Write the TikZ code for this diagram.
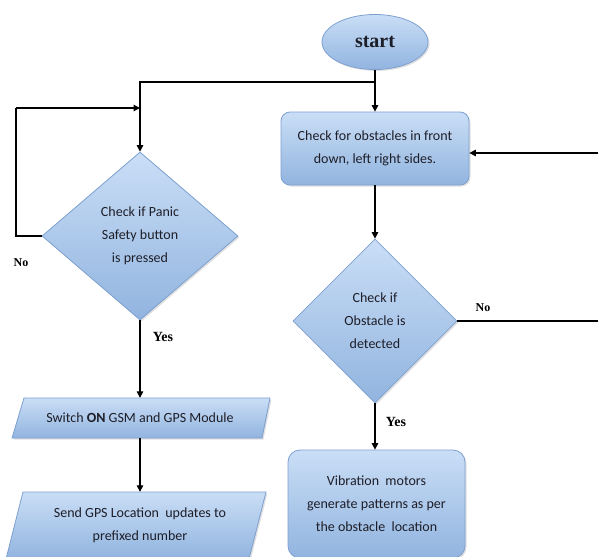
\documentclass[tikz,border=0pt]{standalone}
\usepackage{fontspec}
\setmainfont{Carlito}
\newfontfamily\lblfont{Liberation Serif}
\usetikzlibrary{shapes.geometric,arrows.meta,shadows}
\definecolor{boxtop}{RGB}{202,222,246}
\definecolor{boxbot}{RGB}{145,180,223}
\definecolor{boxline}{RGB}{125,160,208}
\definecolor{txt}{RGB}{30,30,40}
\tikzset{
  flowbox/.style={top color=boxtop, bottom color=boxbot, draw=boxline, line width=0.8pt,
    drop shadow={opacity=0.25, shadow xshift=1.5pt, shadow yshift=-1.5pt},
    text=txt, align=center, inner sep=0pt},
  bodyfont/.style={font=\fontsize{14}{23}\selectfont, text=txt, align=center, inner sep=0pt},
  lbl/.style={font=\lblfont\bfseries\fontsize{14}{16}\selectfont, text=black},
  conn/.style={line width=1.3pt, black},
  arr/.style={conn, -{Triangle[length=6.5pt,width=6.5pt]}},
}
\begin{document}
\begin{tikzpicture}[x=1pt,y=-1pt]
\useasboundingbox (0,0) rectangle (598,557);
% parallelogram outlines
\path[flowbox] (12,438) -- (24,398) -- (270,398) -- (262,438) -- cycle;
\path[flowbox] (6,559) -- (23,492) -- (266,492) -- (249,559) -- cycle;
% nodes
\node[flowbox, ellipse, minimum width=106, minimum height=55,
  font=\lblfont\bfseries\fontsize{20}{22}\selectfont] (start) at (375,42) {start};
\node[flowbox, rectangle, rounded corners=9pt, minimum width=188, minimum height=73, bodyfont]
  (r1) at (375,148.5) {Check for obstacles in front\\down, left right sides.};
\node[flowbox, diamond, minimum width=196, minimum height=168, bodyfont]
  (d1) at (140,236) {Check if Panic\\Safety button\\is pressed};
\node[flowbox, diamond, minimum width=164, minimum height=164, bodyfont]
  (d2) at (375,321) {Check if\\Obstacle is\\detected};
\node[bodyfont, minimum height=40, minimum width=2] (p1) at (140,418)
  {Switch \textbf{ON} GSM and GPS Module};
\node[bodyfont, minimum height=67, minimum width=2] (p2) at (140,525.5)
  {Send GPS Location\ \ updates to\\prefixed number};
\node[flowbox, rectangle, rounded corners=12pt, minimum width=177, minimum height=108, bodyfont]
  (r2) at (376.5,504) {Vibration\ \ motors\\generate patterns as per\\the obstacle\ \ location};
% labels
\node[lbl, font=\lblfont\bfseries\fontsize{12}{14}\selectfont] (no1) at (21,263) {No};
\node[lbl, font=\lblfont\bfseries\fontsize{12}{14}\selectfont] (no2) at (483,308) {No};
\node[lbl] (yes1) at (163,337) {Yes};
\node[lbl] (yes2) at (396,422) {Yes};
% coordinates
\coordinate (j) at (375,82);
\coordinate (jl) at (140,82);
\coordinate (loopl) at (16,236);
\coordinate (loopt) at (16,108);
\coordinate (loopr) at (140,108);
\coordinate (rin) at (598,153);
\coordinate (rout) at (598,321);
% connectors
\draw[conn] (start.south) -- (j);
\draw[arr] (j) -- (r1.north);
\draw[arr] (j) -- (jl) -- (d1.north);
\draw[conn] (d1.west) -- (loopl) -- (loopt);
\draw[arr] (loopt) -- (loopr);
\draw[arr] (rin) -- (rin -| r1.east);
\draw[arr] (r1.south) -- (d2.north);
\draw[conn] (d2.east) -- (rout);
\draw[arr] (d1.south) -- (p1.north);
\draw[arr] (p1.south) -- (p2.north);
\draw[arr] (d2.south) -- (d2.south |- r2.north);
\end{tikzpicture}
\end{document}
